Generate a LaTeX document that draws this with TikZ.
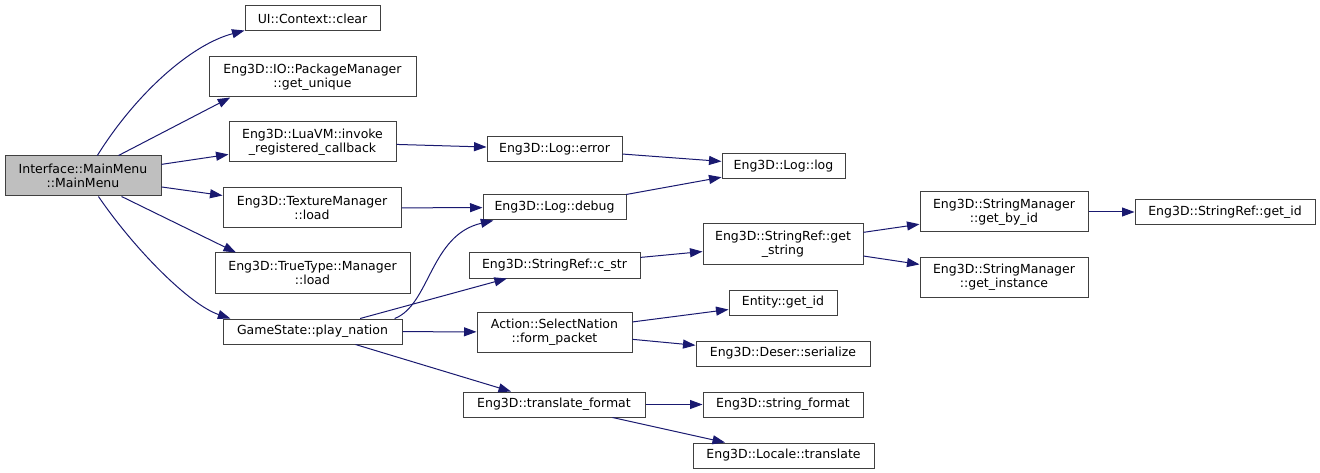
\documentclass[tikz,border=0pt]{standalone}
\usepackage{fontspec}
\setmainfont{DejaVu Sans}
\usepackage{xcolor}
\usepackage{tikz}
\usetikzlibrary{arrows.meta}
\definecolor{EdgeBlue}{RGB}{25, 25, 112}
\definecolor{BoxGray}{RGB}{64, 64, 64}
\definecolor{SelGray}{RGB}{191, 191, 191}
\tikzset{
  fn/.style={rectangle, draw=BoxGray, fill=white, line width=1pt,
    inner sep=0pt, minimum height=25pt, align=center, text=black,
    font=\fontsize{12.5pt}{14.5pt}\selectfont},
  fntwo/.style={fn, minimum height=40pt},
  fnsel/.style={fntwo, fill=SelGray},
  call/.style={-{Triangle[length=12.5pt,width=9pt]}, line width=1pt, color=EdgeBlue},
}

\begin{document}
\begin{tikzpicture}[x=1pt, y=-1pt]
  \useasboundingbox (0,0) rectangle (1320,473);
  % column 1 and 2
  \node[fnsel, minimum width=156pt] (main)  at (83,176)    {Interface::MainMenu\\::MainMenu};
  \node[fn,    minimum width=135pt] (clear) at (312.5,18.5) {UI::Context::clear};
  \node[fntwo, minimum width=207pt] (pkg)   at (312.5,77)   {Eng3D::IO::PackageManager\\::get\_unique};
  \node[fntwo, minimum width=167pt] (lua)   at (312.5,142)  {Eng3D::LuaVM::invoke\\\_registered\_callback};
  \node[fntwo, minimum width=178pt] (tex)   at (312,208)    {Eng3D::TextureManager\\::load};
  \node[fntwo, minimum width=195pt] (tt)    at (312.5,273)  {Eng3D::TrueType::Manager\\::load};
  \node[fn,    minimum width=179pt] (gs)    at (312.5,331.5) {GameState::play\_nation};
  % column 3
  \node[fn,    minimum width=135pt] (err)   at (554.5,149)  {Eng3D::Log::error};
  \node[fn,    minimum width=143pt] (dbg)   at (554.5,207.5) {Eng3D::Log::debug};
  \node[fn,    minimum width=171pt] (cstr)  at (554.5,265.5) {Eng3D::StringRef::c\_str};
  \node[fntwo, minimum width=155pt] (sel)   at (554.5,332)  {Action::SelectNation\\::form\_packet};
  \node[fn,    minimum width=182pt] (tfmt)  at (554,404.5)  {Eng3D::translate\_format};
  % column 4
  \node[fn,    minimum width=123pt] (log)   at (783.5,166)  {Eng3D::Log::log};
  \node[fntwo, minimum width=160pt] (gstr)  at (783,244)    {Eng3D::StringRef::get\\\_string};
  \node[fn,    minimum width=108pt] (ent)   at (783,302.5)  {Entity::get\_id};
  \node[fn,    minimum width=174pt] (deser) at (783,353.5)  {Eng3D::Deser::serialize};
  \node[fn,    minimum width=160pt] (sfmt)  at (783,404.5)  {Eng3D::string\_format};
  \node[fn,    minimum width=181pt] (loc)   at (783.5,455.5) {Eng3D::Locale::translate};
  % column 5 and 6
  \node[fntwo, minimum width=168pt] (sbyid) at (1004,212)   {Eng3D::StringManager\\::get\_by\_id};
  \node[fntwo, minimum width=168pt] (sinst) at (1004,277)   {Eng3D::StringManager\\::get\_instance};
  \node[fn,    minimum width=180pt] (sid)   at (1225,212)   {Eng3D::StringRef::get\_id};

  \draw[call] (main.55) .. controls (135,95) and (190,45) .. (clear.190);
  \draw[call] (main.30) -- (pkg.194);
  \draw[call] (main) -- (lua);
  \draw[call] (main) -- (tex);
  \draw[call] (main.-28) -- (tt.165);
  \draw[call] (main.-53) .. controls (135,250) and (190,305) .. (gs.171);
  \draw[call] (lua) -- (err);
  \draw[call] (tex) -- (dbg);
  \draw[call] (err) -- (log);
  \draw[call] (dbg) -- (log);
  \draw[call] (gs.9) .. controls (430,305) and (430,235) .. (dbg.192);
  \draw[call] (gs) -- (cstr);
  \draw[call] (gs) -- (sel);
  \draw[call] (gs) -- (tfmt);
  \draw[call] (cstr) -- (gstr);
  \draw[call] (gstr) -- (sbyid);
  \draw[call] (gstr) -- (sinst);
  \draw[call] (sbyid) -- (sid);
  \draw[call] (sel) -- (ent);
  \draw[call] (sel) -- (deser);
  \draw[call] (tfmt) -- (sfmt);
  \draw[call] (tfmt) -- (loc);
\end{tikzpicture}
\end{document}
